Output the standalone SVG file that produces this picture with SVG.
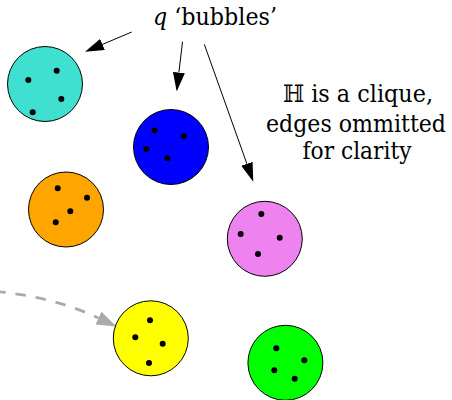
<svg xmlns="http://www.w3.org/2000/svg" width="452" height="400" viewBox="0 0 452 400">
<style>
.bub{stroke:#000;stroke-width:1}
.dot{fill:#000}
.lbl{font-family:"DejaVu Serif","Liberation Serif",serif;font-size:24px;fill:#000}
.arr{stroke:#000;stroke-width:1;fill:none}
.dash{stroke:#aaaaaa;stroke-width:2.8;fill:none;stroke-dasharray:10.5 10}
</style>
<defs>
<marker id="ah" viewBox="0 0 19 12" refX="0" refY="6" markerWidth="19" markerHeight="12" markerUnits="userSpaceOnUse" orient="auto">
<path d="M0,0 L19,6 L0,12 z" fill="#000"/>
</marker>
<marker id="ahg" viewBox="0 0 20 14" refX="0" refY="7" markerWidth="20" markerHeight="14" markerUnits="userSpaceOnUse" orient="auto">
<path d="M0,0 L20,7 L0,14 z" fill="#aaaaaa"/>
</marker>
</defs>
<rect width="452" height="400" fill="#fff"/>
<g id="connectors">
<line class="arr" x1="131.7" y1="32" x2="102.5" y2="44.4" marker-end="url(#ah)"/>
<line class="arr" x1="182.5" y1="41.7" x2="178.9" y2="72.6" marker-end="url(#ah)"/>
<line class="arr" x1="204.3" y1="44.3" x2="246.9" y2="163.8" marker-end="url(#ah)"/>
<path class="dash" d="M-5,291.5 Q51,296 98.4,318" marker-end="url(#ahg)"/>
</g>
<g id="bubble-turquoise">
<circle class="bub" cx="45" cy="84" r="37.5" fill="#40E0D0"/>
<circle class="dot" cx="28.3" cy="80" r="3"/>
<circle class="dot" cx="56.7" cy="70.7" r="3"/>
<circle class="dot" cx="61.3" cy="99" r="3"/>
<circle class="dot" cx="32.7" cy="112.3" r="3"/>
</g>
<g id="bubble-blue">
<circle class="bub" cx="171" cy="147" r="37.5" fill="#0000FF"/>
<circle class="dot" cx="154.5" cy="130.5" r="3"/>
<circle class="dot" cx="183.7" cy="136.3" r="3"/>
<circle class="dot" cx="146.3" cy="149" r="3"/>
<circle class="dot" cx="167.3" cy="158.3" r="3"/>
</g>
<g id="bubble-orange">
<circle class="bub" cx="66" cy="209.5" r="37.5" fill="#FFA500"/>
<circle class="dot" cx="57.7" cy="188.3" r="3"/>
<circle class="dot" cx="87" cy="197.7" r="3"/>
<circle class="dot" cx="70.3" cy="211.3" r="3"/>
<circle class="dot" cx="55.7" cy="222.3" r="3"/>
</g>
<g id="bubble-violet">
<circle class="bub" cx="264.8" cy="238.8" r="37.5" fill="#EE82EE"/>
<circle class="dot" cx="261.3" cy="214" r="3"/>
<circle class="dot" cx="240.7" cy="234" r="3"/>
<circle class="dot" cx="279.7" cy="237.7" r="3"/>
<circle class="dot" cx="258" cy="254" r="3"/>
</g>
<g id="bubble-yellow">
<circle class="bub" cx="150.8" cy="338.3" r="37.5" fill="#FFFF00"/>
<circle class="dot" cx="150" cy="320.3" r="3"/>
<circle class="dot" cx="135.3" cy="337.3" r="3"/>
<circle class="dot" cx="162.7" cy="343.7" r="3"/>
<circle class="dot" cx="149" cy="363" r="3"/>
</g>
<g id="bubble-green">
<circle class="bub" cx="285.4" cy="362.8" r="37.5" fill="#00FF00"/>
<circle class="dot" cx="276.3" cy="348.3" r="3"/>
<circle class="dot" cx="304.3" cy="360.3" r="3"/>
<circle class="dot" cx="274.3" cy="370.3" r="3"/>
<circle class="dot" cx="294.7" cy="378.7" r="3"/>
</g>
<g id="label-bubbles">
<text class="lbl" x="153" y="25" textLength="124" lengthAdjust="spacingAndGlyphs"><tspan font-style="italic">q</tspan> ‘bubbles’</text>
</g>
<g id="label-clique">
<text class="lbl" x="358" y="102" text-anchor="middle" textLength="150" lengthAdjust="spacingAndGlyphs">ℍ is a clique,</text>
<text class="lbl" x="446" y="131.5" text-anchor="end" textLength="180" lengthAdjust="spacingAndGlyphs">edges ommitted</text>
<text class="lbl" x="357" y="159" text-anchor="middle" textLength="109" lengthAdjust="spacingAndGlyphs">for clarity</text>
</g>
</svg>
